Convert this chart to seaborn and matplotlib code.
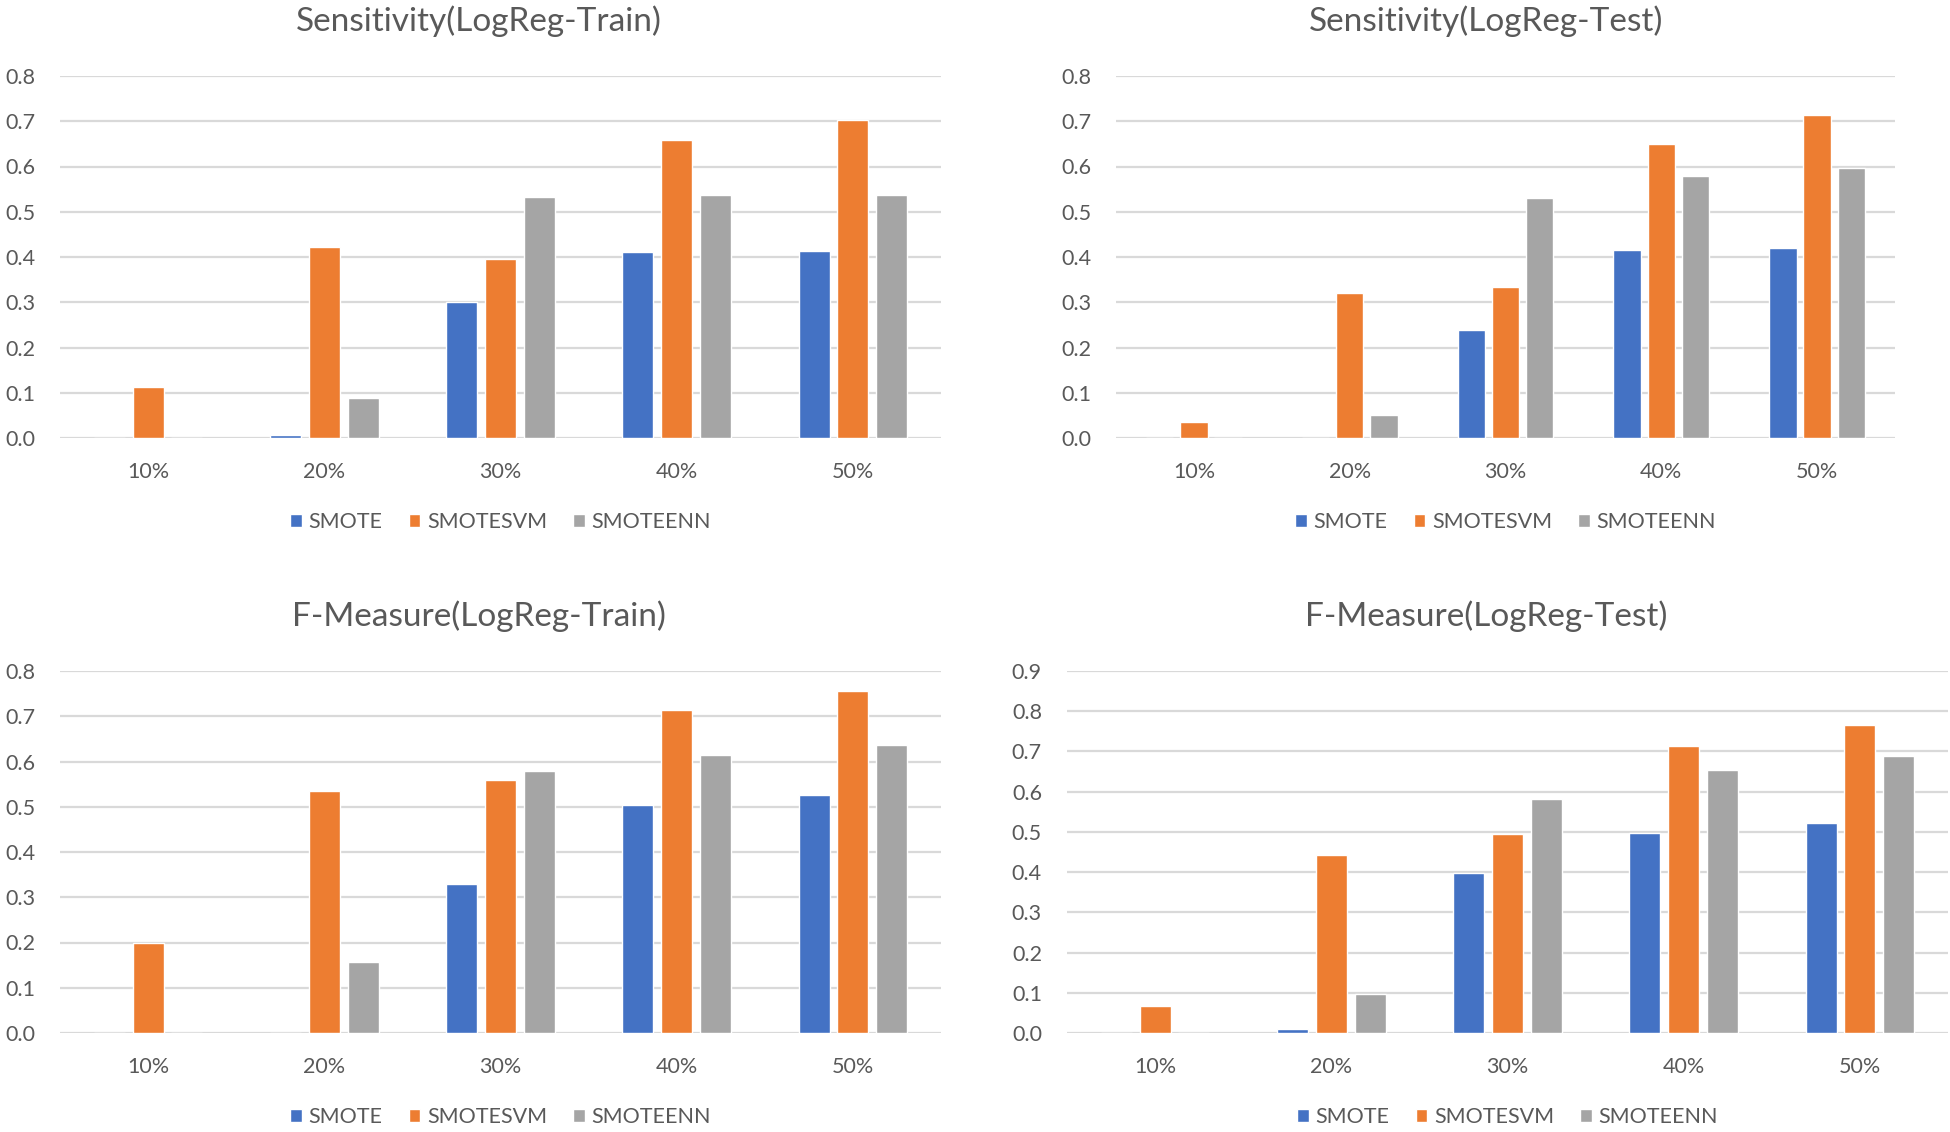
import pandas as pd
import matplotlib
matplotlib.use("Agg")
import matplotlib.pyplot as plt
import seaborn as sns

# Values
categories = ["10%", "20%", "30%", "40%", "50%"]
methods = ["SMOTE", "SMOTESVM", "SMOTEENN"]

sens_train_smote = [0.0, 0.006, 0.300, 0.410, 0.414]
sens_train_svm = [0.112, 0.422, 0.396, 0.659, 0.703]
sens_train_enn = [0.0, 0.088, 0.533, 0.537, 0.537]

sens_test_smote = [0.0, 0.0, 0.238, 0.416, 0.419]
sens_test_svm = [0.035, 0.320, 0.333, 0.649, 0.713]
sens_test_enn = [0.0, 0.051, 0.530, 0.578, 0.597]

fm_train_smote = [0.0, 0.0, 0.330, 0.503, 0.525]
fm_train_svm = [0.198, 0.535, 0.560, 0.713, 0.755]
fm_train_enn = [0.0, 0.156, 0.578, 0.614, 0.636]

fm_test_smote = [0.0, 0.011, 0.399, 0.497, 0.521]
fm_test_svm = [0.068, 0.443, 0.494, 0.714, 0.765]
fm_test_enn = [0.0, 0.098, 0.583, 0.654, 0.689]

colors = ["#4472C4", "#ED7D31", "#A5A5A5"]
text_color = "#595959"
grid_color = "#D9D9D9"

sns.set_style("white")
plt.rcParams["font.family"] = ["Lato", "DejaVu Sans"]

W, H = 1950, 1132
fig = plt.figure(figsize=(W / 100, H / 100), dpi=100)


def long_table(smote, svm, enn):
    rows = []
    for name, vals in zip(methods, [smote, svm, enn]):
        for c, v in zip(categories, vals):
            rows.append({"cat": c, "method": name, "value": v})
    return pd.DataFrame(rows)


panels = [
    # title, data, (left, top, right, bottom) in px, ymax, title centre
    ("Sensitivity(LogReg-Train)", (sens_train_smote, sens_train_svm, sens_train_enn),
     (60, 76, 941, 438), 0.8, (479, 21)),
    ("Sensitivity(LogReg-Test)", (sens_test_smote, sens_test_svm, sens_test_enn),
     (1116, 76, 1895, 438), 0.8, (1486, 21)),
    ("F-Measure(LogReg-Train)", (fm_train_smote, fm_train_svm, fm_train_enn),
     (60, 671, 941, 1033), 0.8, (479, 616)),
    ("F-Measure(LogReg-Test)", (fm_test_smote, fm_test_svm, fm_test_enn),
     (1067, 671, 1948, 1033), 0.9, (1486, 616)),
]

for title, data, (l, t, r, b), ymax, (tx, ty) in panels:
    ax = fig.add_axes([l / W, 1 - b / H, (r - l) / W, (b - t) / H])
    df = long_table(*data)
    sns.barplot(data=df, x="cat", y="value", hue="method", order=categories,
                hue_order=methods, palette=colors, width=0.66, gap=0.2,
                saturation=1, ax=ax)
    ax.set_ylim(0, ymax)
    ax.set_xlim(-0.5, 4.5)
    n = int(round(ymax * 10))
    ticks = [i / 10 for i in range(n + 1)]
    ax.set_yticks(ticks)
    ax.set_yticklabels([f"{v:.1f}" for v in ticks])
    ax.yaxis.grid(True, color=grid_color, linewidth=1.6)
    ax.set_axisbelow(True)
    for s in ax.spines.values():
        s.set_visible(False)
    ax.tick_params(axis="both", length=0, labelsize=15.5, colors=text_color)
    ax.tick_params(axis="y", pad=18)
    ax.tick_params(axis="x", pad=17)
    ax.set_xlabel("")
    ax.set_ylabel("")
    handles, labels = ax.get_legend_handles_labels()
    ax.legend(handles, labels, loc="center", bbox_to_anchor=(0.5, -84 / (b - t)),
              ncol=3, frameon=False, fontsize=15.5, labelcolor=text_color,
              handlelength=0.55, handleheight=0.55, handletextpad=0.3,
              columnspacing=1.2)
    fig.text(tx / W, 1 - ty / H, title, ha="center", va="center",
             fontsize=24, color=text_color)

fig.savefig("out.png", dpi=100)
